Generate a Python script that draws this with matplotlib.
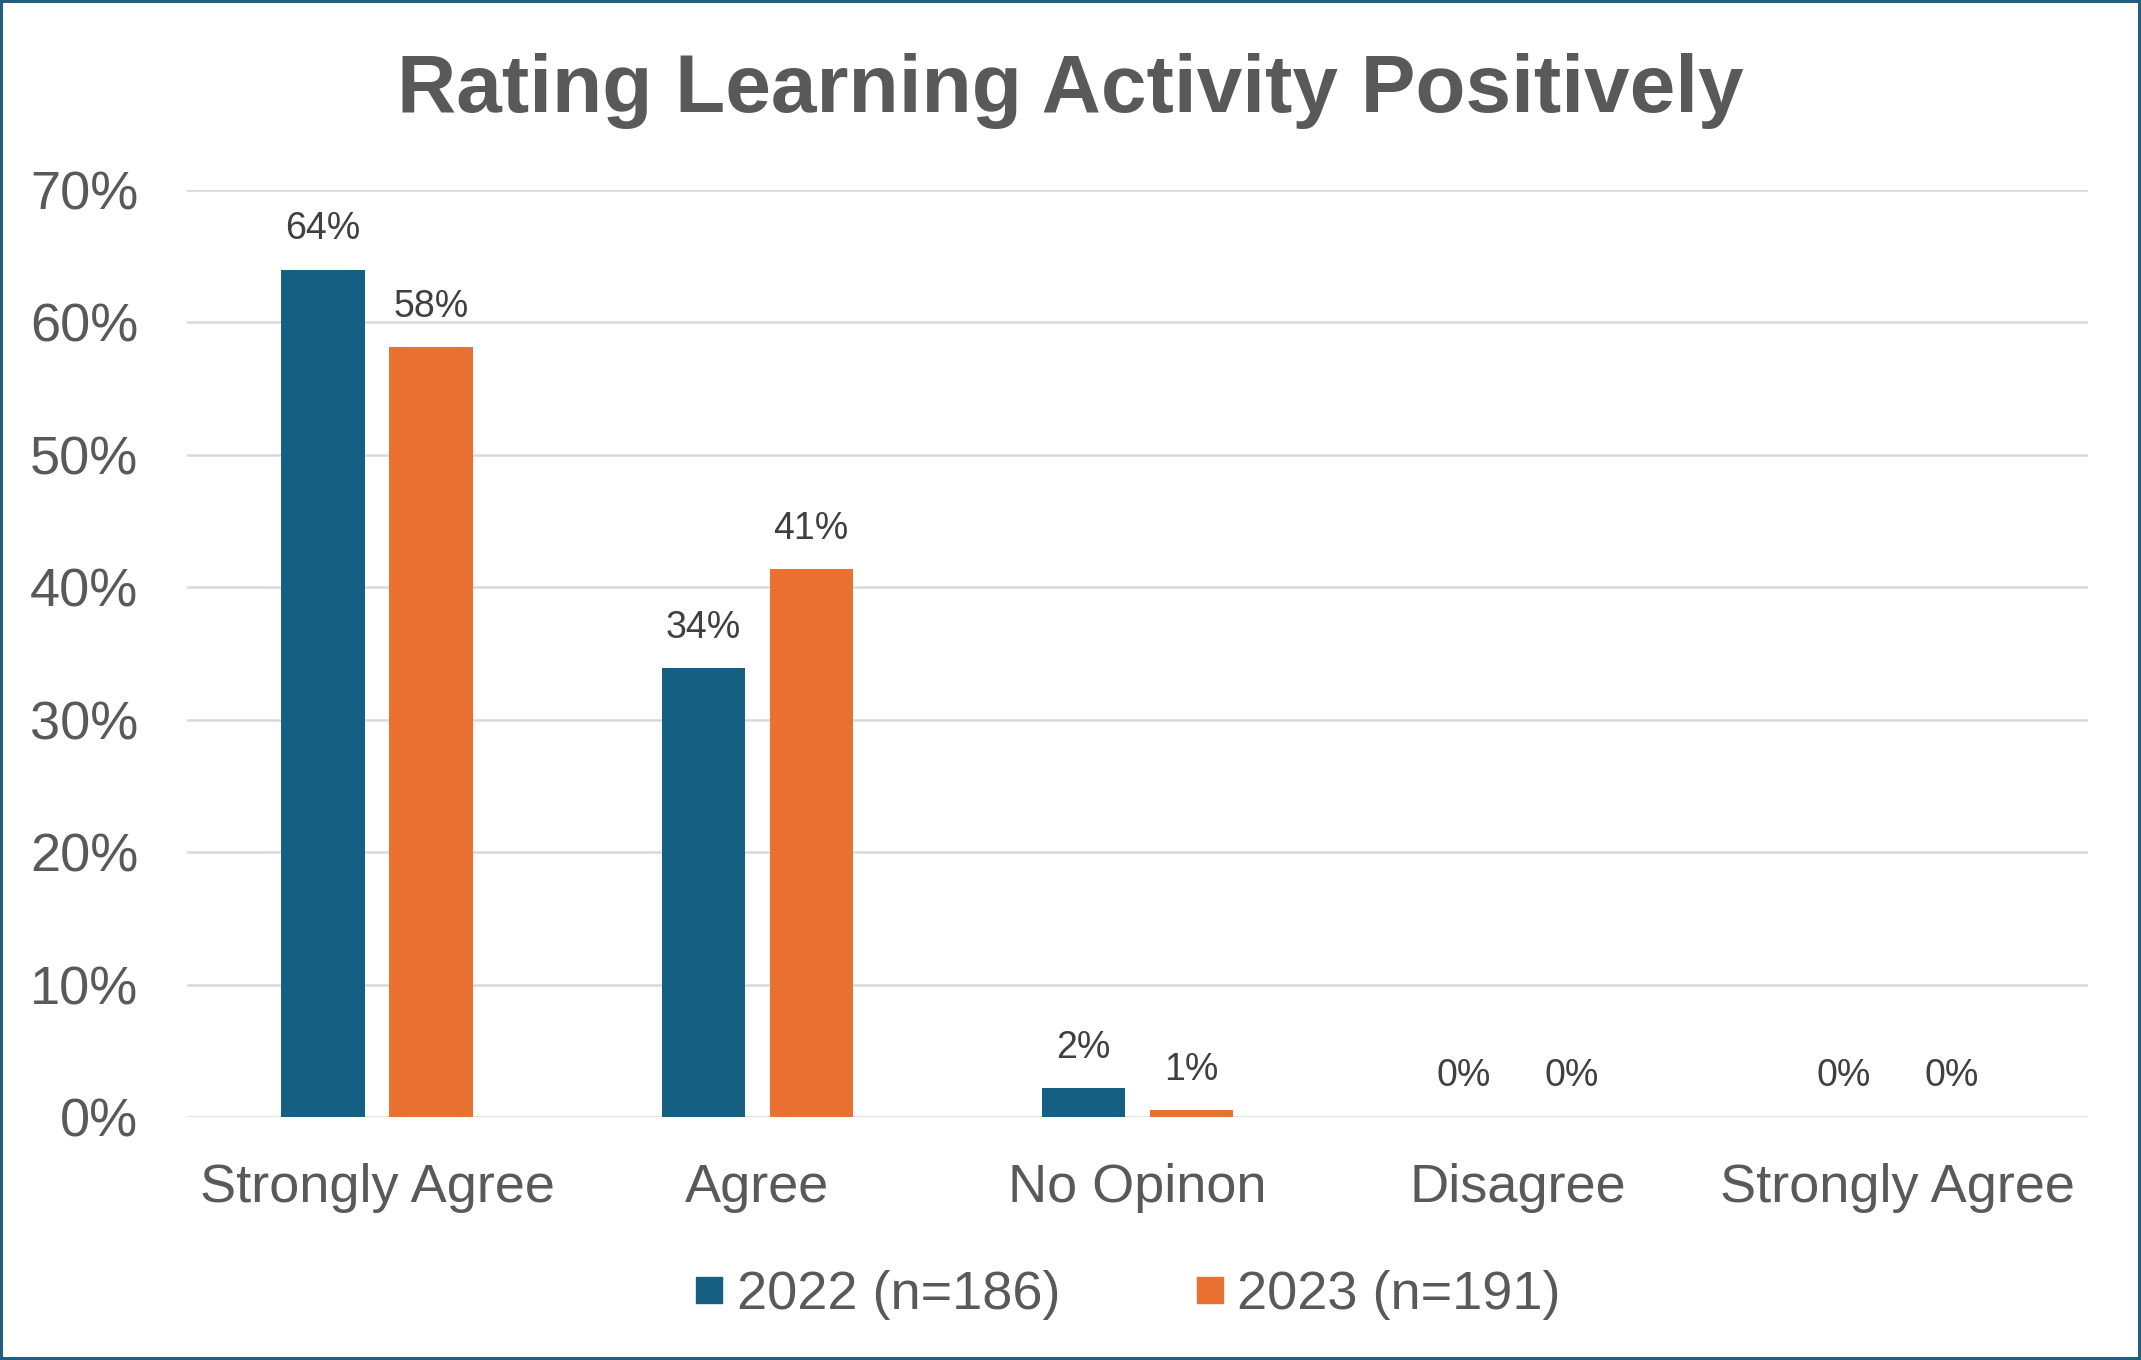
import numpy as np
import matplotlib
matplotlib.use('Agg')
import matplotlib.pyplot as plt
from matplotlib.lines import Line2D
from matplotlib.patches import Rectangle

# survey shares in percent
categories = ['Strongly Agree', 'Agree', 'No Opinon', 'Disagree', 'Strongly Agree']
series_names = ['2022 (n=186)', '2023 (n=191)']
values_2022 = [63.98, 33.87, 2.15, 0.0, 0.0]
values_2023 = [58.12, 41.36, 0.52, 0.0, 0.0]
y_ticks = [0, 10, 20, 30, 40, 50, 60, 70]

colors = ['#156082', '#E97132']
grey = '#595959'

plt.rcParams['font.family'] = ['Liberation Sans', 'DejaVu Sans']

fig = plt.figure(figsize=(21.41, 13.60), dpi=100)
ax = fig.add_axes([0.0873, 0.1787, 0.9752 - 0.0873, 0.8603 - 0.1787])

x = np.arange(len(categories))
width = 0.219
offset = 0.142

for k, vals in enumerate([values_2022, values_2023]):
    pos = x + (-offset if k == 0 else offset)
    ax.bar(pos, vals, width=width, color=colors[k], zorder=3)
    for xi, v in zip(pos, vals):
        ax.annotate('{}%'.format(int(v + 0.5)), xy=(xi, v), xytext=(0, 22),
                    textcoords='offset points', ha='center', va='baseline',
                    fontsize=27, color='#404040')

ax.set_xlim(-0.5, len(categories) - 0.5)
ax.set_ylim(0, 70)
ax.set_yticks(y_ticks)
ax.set_yticklabels(['{}%'.format(t) for t in y_ticks])
ax.set_xticks(x)
ax.set_xticklabels(categories)
ax.tick_params(axis='both', length=0, labelsize=39, colors=grey)
ax.tick_params(axis='y', pad=35)
ax.tick_params(axis='x', pad=33)
ax.grid(axis='y', color='#D9D9D9', lw=1.8, zorder=0)
ax.set_axisbelow(True)
for s in ax.spines.values():
    s.set_visible(False)

fig.text(0.4998, 0.9176, 'Rating Learning Activity Positively', ha='center',
         va='baseline', fontsize=59, fontweight='bold', color=grey)

handles = [Line2D([], [], ls='none', marker='s', markersize=18.7, color=c) for c in colors]
fig.legend(handles, series_names, loc='center', bbox_to_anchor=(0.527, 0.0475),
           ncol=2, frameon=False, fontsize=39, labelcolor=grey,
           handlelength=0.5, handletextpad=0.26, columnspacing=2.5)

fig.patches.append(Rectangle((0, 0), 1, 1, transform=fig.transFigure, fill=False,
                             edgecolor='#1F5E7E', lw=4.3, clip_on=False))

fig.savefig('out.png', dpi=100)
